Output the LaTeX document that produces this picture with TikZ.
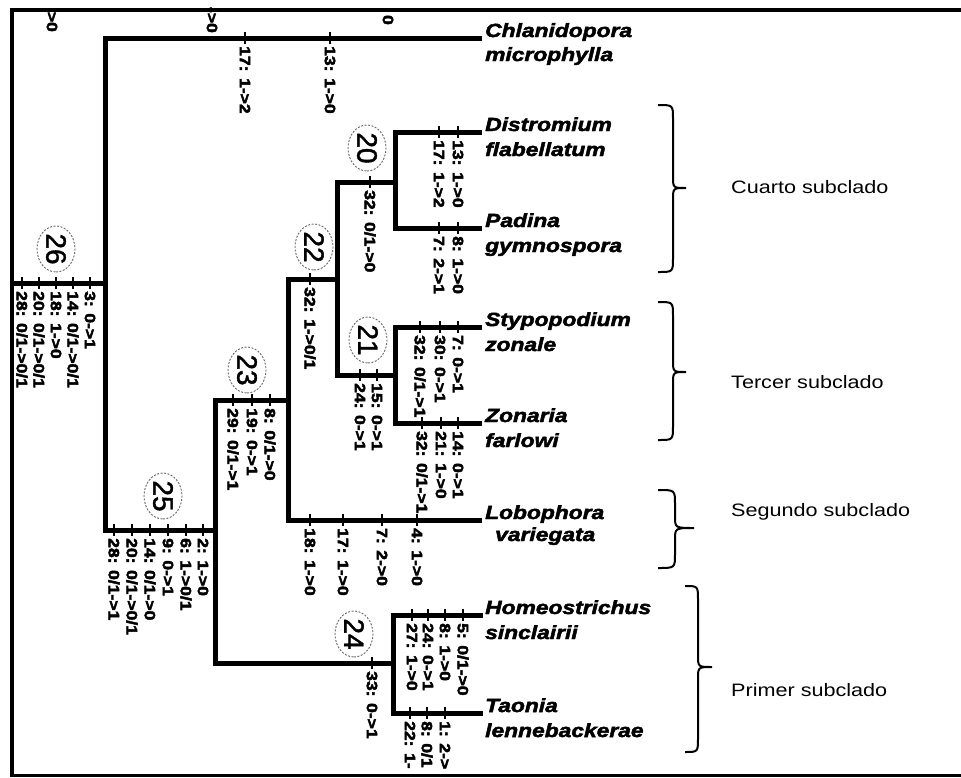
\documentclass[tikz,border=0pt]{standalone}
\usepackage{fontspec}
\setmainfont{Liberation Sans}
\usetikzlibrary{shapes.geometric}
\newfontfamily\spfont[FakeStretch=1.2,BoldItalicFeatures={FakeBold=2.5}]{Liberation Sans}
\newfontfamily\labfont[FakeStretch=1.17,BoldFeatures={FakeBold=3}]{Liberation Sans}
\newfontfamily\cladefont[FakeStretch=1.2]{Liberation Sans}
\newfontfamily\numfont[FakeBold=1.5]{Liberation Sans}

\tikzset{
  branch/.style={line width=5pt, line join=miter},
  frameline/.style={line width=3.5pt},
  tickmark/.style={line width=2.6pt},
  mutlab/.style={rotate=-90, anchor=west, inner sep=0pt,
    font=\labfont\bfseries\fontsize{15}{15}\selectfont},
  cutlab/.style={mutlab, anchor=east},
  clade/.style={ellipse, draw=gray!80!black, dash pattern=on 2pt off 1.5pt, line width=0.9pt,
    minimum width=46pt, minimum height=38pt, inner sep=0pt, rotate=-90,
    font=\numfont\fontsize{28}{28}\selectfont},
  spname/.style={anchor=base west, inner sep=0pt,
    font=\spfont\bfseries\itshape\fontsize{19}{19}\selectfont},
  subclade/.style={anchor=west, inner sep=0pt,
    font=\cladefont\fontsize{18}{18}\selectfont},
  bracepath/.style={line width=2pt},
}

% character change: tick across the branch and its rotated label
\newcommand\mutmark[4]{%
  \draw[tickmark] (#2,#3-6) -- (#2,#3+6);
  \node[mutlab] (#1) at (#2,#3+8) {#4};}

% right-pointing curly brace
\newcommand\clbrace[6]{%
  \draw[bracepath] (#1,#4) .. controls (#2,#4) .. (#2,#4+14)
    -- (#2,#5-12) .. controls (#2,#5) .. (#3,#5)
    .. controls (#2,#5) .. (#2,#5+12)
    -- (#2,#6-14) .. controls (#2,#6) .. (#1,#6);}

\begin{document}
\begin{tikzpicture}[x=1pt, y=-1pt]
\useasboundingbox (0,0) rectangle (961,777);
\fill[white] (0,0) rectangle (961,777);

% frame
\draw[frameline] (10,10) -- (961,10);
\draw[frameline] (12,10) -- (12,777);
\draw[line width=3pt] (12,775) -- (961,775);

% tree junctions and leaf ends
\coordinate (Root) at (12,283);
\coordinate (N26) at (105,283);
\coordinate (N25) at (215,530);
\coordinate (N23) at (288,400);
\coordinate (N22) at (337,279);
\coordinate (N20) at (395,182);
\coordinate (N21) at (395,375);
\coordinate (N24) at (393,663);
\coordinate (Chl) at (482,38);
\coordinate (Dis) at (482,132);
\coordinate (Pad) at (482,228);
\coordinate (Sty) at (482,327);
\coordinate (Zon) at (482,423);
\coordinate (Lob) at (482,520);
\coordinate (Hom) at (483,615);
\coordinate (Tao) at (483,713);

% branches
\draw[branch] (Root) -- (N26);
\draw[branch] (Chl) -| (N26) |- (N25);
\draw[branch] (N23) -| (N25) |- (N24);
\draw[branch] (N22) -| (N23) |- (Lob);
\draw[branch] (N20) -| (N22) |- (N21);
\draw[branch] (Dis) -| (N20) |- (Pad);
\draw[branch] (Sty) -| (N21) |- (Zon);
\draw[branch] (Hom) -| (N24) |- (Tao);

% clade numbers
\node[clade] (c26) at (56,249) {26};
\node[clade] (c25) at (163,496) {25};
\node[clade] (c23) at (247,370) {23};
\node[clade] (c22) at (314,247) {22};
\node[clade] (c20) at (367,148) {20};
\node[clade] (c21) at (368,340) {21};
\node[clade] (c24) at (354,634) {24};

% changes on the root branch
\mutmark{m26a}{22}{283}{28: 0/1->0/1}
\mutmark{m26b}{39}{283}{20: 0/1->0/1}
\mutmark{m26c}{56}{283}{18: 1->0}
\mutmark{m26d}{73}{283}{14: 0/1->0/1}
\mutmark{m26e}{90}{283}{3: 0->1}

% Chlanidopora
\mutmark{mchla}{245}{38}{17: 1->2}
\mutmark{mchlb}{330}{38}{13: 1->0}

% node 25
\mutmark{m25a}{114}{530}{28: 0/1->1}
\mutmark{m25b}{132}{530}{20: 0/1->0/1}
\mutmark{m25c}{150}{530}{14: 0/1->0}
\mutmark{m25d}{168}{530}{9: 0->1}
\mutmark{m25e}{186}{530}{6: 1->0/1}
\mutmark{m25f}{203}{530}{2: 1->0}

% node 23
\mutmark{m23a}{233}{400}{29: 0/1->1}
\mutmark{m23b}{252}{400}{19: 0->1}
\mutmark{m23c}{270}{400}{8: 0/1->0}

% node 22
\mutmark{m22a}{310}{279}{32: 1->0/1}

% node 20
\mutmark{m20a}{370}{182}{32: 0/1->0}

% Distromium and Padina
\mutmark{mdisa}{439}{132}{17: 1->2}
\mutmark{mdisb}{458}{132}{13: 1->0}
\mutmark{mpada}{439}{228}{7: 2->1}
\mutmark{mpadb}{458}{228}{8: 1->0}

% node 21
\mutmark{m21a}{360}{375}{24: 0->1}
\mutmark{m21b}{377}{375}{15: 0->1}

% Stypopodium and Zonaria
\mutmark{mstya}{420}{327}{32: 0/1->1}
\mutmark{mstyb}{440}{327}{30: 0->1}
\mutmark{mstyc}{458}{327}{7: 0->1}
\mutmark{mzona}{422}{423}{32: 0/1->1}
\mutmark{mzonb}{441}{423}{21: 1->0}
\mutmark{mzonc}{458}{423}{14: 0->1}

% Lobophora
\mutmark{mloba}{310}{520}{18: 1->0}
\mutmark{mlobb}{343}{520}{17: 1->0}
\mutmark{mlobc}{382}{520}{7: 2->0}
\mutmark{mlobd}{417}{520}{4: 1->0}

% node 24
\mutmark{m24a}{372}{663}{33: 0->1}

% Homeostrichus and Taonia
\mutmark{mhoma}{412}{615}{27: 1->0}
\mutmark{mhomb}{428}{615}{24: 0->1}
\mutmark{mhomc}{445}{615}{8: 1->0}
\mutmark{mhomd}{463}{615}{5: 0/1->0}
\mutmark{mtaoa}{410}{713}{22: 1-}
\mutmark{mtaob}{427}{713}{8: 0/1}
\mutmark{mtaoc}{445}{713}{1: 2->}

% label ends cut by the upper edge
\node[cutlab] (topa) at (52,32) {>0};
\node[cutlab] (topb) at (212,33) {->0};
\node[cutlab] (topc) at (388,25) {0};

% taxa
\node[spname] (chl1) at (485,37) {Chlanidopora};
\node[spname] (chl2) at (485,61) {microphylla};
\node[spname] (dis1) at (485,131) {Distromium};
\node[spname] (dis2) at (485,156) {flabellatum};
\node[spname] (pad1) at (485,227) {Padina};
\node[spname] (pad2) at (485,252) {gymnospora};
\node[spname] (sty1) at (485,326) {Stypopodium};
\node[spname] (sty2) at (485,351) {zonale};
\node[spname] (zon1) at (485,422) {Zonaria};
\node[spname] (zon2) at (485,447) {farlowi};
\node[spname] (lob1) at (485,519) {Lobophora};
\node[spname] (lob2) at (495,541) {variegata};
\node[spname] (hom1) at (485,614) {Homeostrichus};
\node[spname] (hom2) at (485,639) {sinclairii};
\node[spname] (tao1) at (485,712) {Taonia};
\node[spname] (tao2) at (485,737) {lennebackerae};

% subclades
\clbrace{658}{673}{686}{105}{188}{272}
\clbrace{658}{673}{686}{302}{372}{440}
\clbrace{658}{675}{694}{490}{528}{568}
\clbrace{685}{698}{712}{586}{667}{752}
\node[subclade] (sc4) at (731,187) {Cuarto subclado};
\node[subclade] (sc3) at (731,382) {Tercer subclado};
\node[subclade] (sc2) at (731,512) {Segundo subclado};
\node[subclade] (sc1) at (731,690) {Primer subclado};
\end{tikzpicture}
\end{document}
